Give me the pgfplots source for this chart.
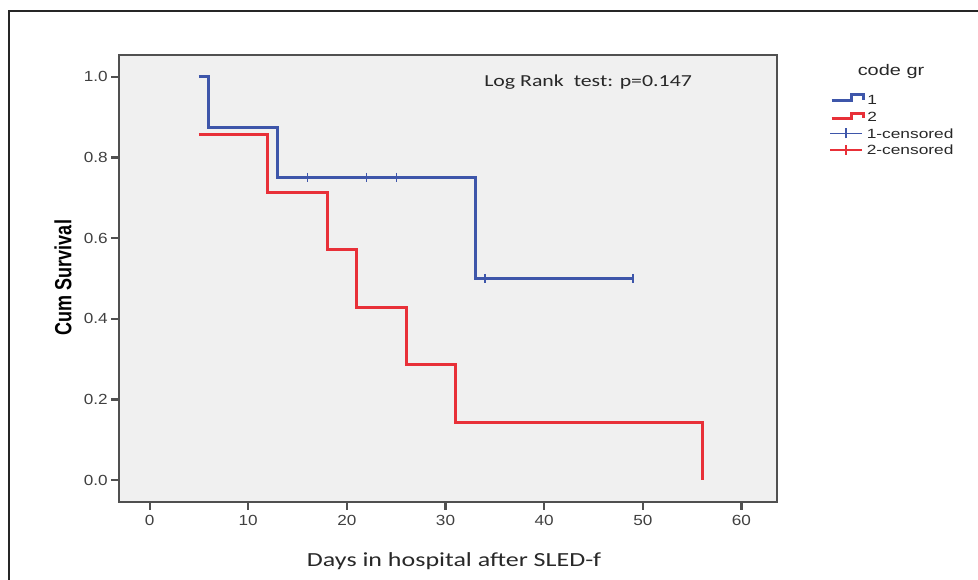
\documentclass[border=0pt]{standalone}
\usepackage{pgfplots}
\pgfplotsset{compat=1.18}
\usepackage{fontspec}
\setmainfont{Liberation Sans}
\newfontfamily\tickfont[FakeStretch=1.3]{Liberation Sans}
\newfontfamily\numfont[FakeStretch=1.17]{Liberation Sans}
\newfontfamily\calfont[FakeStretch=1.3]{Carlito}
\definecolor{kmblue}{RGB}{62,86,170}
\definecolor{kmred}{RGB}{232,48,56}
\definecolor{bgc}{RGB}{240,240,240}
\definecolor{framec}{RGB}{80,80,80}
\definecolor{txtc}{RGB}{40,40,40}
\begin{document}
\begin{tikzpicture}[x=0.75pt,y=0.75pt]
\path[use as bounding box] (0,0) rectangle (978,580);
\draw[black!85, line width=1.5pt] (9.3,0) -- (9.3,569) -- (978,569);
\begin{axis}[
  at={(89.25pt,58.5pt)}, anchor=south west,
  scale only axis, width=493.5pt, height=335.25pt,
  xmin=-3.1, xmax=63.6, ymin=-0.054, ymax=1.054,
  xtick={0,10,20,30,40,50,60},
  ytick={0,0.2,0.4,0.6,0.8,1.0},
  axis background/.style={fill=bgc},
  axis line style={draw=framec, line width=1.6pt},
  tick style={draw=framec, line width=1.6pt},
  major tick length=6pt, tick align=outside,
  xtick pos=bottom, ytick pos=left,
  /pgf/number format/assume math mode=true,
  ticklabel style={font=\numfont\fontsize{11}{13}\selectfont, text=black!75},
  yticklabel style={xshift=1pt, /pgf/number format/.cd, fixed, fixed zerofill, precision=1},
  xticklabel style={yshift=-0.5pt},
  clip=false,
]
\addplot[kmblue, line width=2.2pt, const plot, line join=miter] coordinates {(5,1) (6,0.875) (13,0.75) (33,0.5) (49,0.5)};
\addplot[kmred, line width=2.2pt, const plot, line join=miter] coordinates {(5,0.857) (12,0.714) (18,0.571) (21,0.429) (26,0.286) (31,0.143) (56,0)};
\addplot[kmblue, only marks, mark=|, mark size=3.5pt, mark options={line width=1pt}] coordinates {(16,0.75) (22,0.75) (25,0.75) (34,0.5) (49,0.5)};
\end{axis}
% titles
\node[anchor=west, inner sep=0pt, font=\calfont\fontsize{12.6}{15}\selectfont, text=txtc] at (484,498) {Log Rank\ \ test: p=0.147};
\node[font=\calfont\fontsize{15}{17}\selectfont, text=txtc, anchor=base] at (454,13.3) {Days in hospital after SLED-f};
\begin{scope}[shift={(63,302.5)}, xscale=1.3]
\node[rotate=90, transform shape, font=\bfseries\fontsize{13.5}{15}\selectfont] at (0,0) {Cum Survival};
\end{scope}
% legend
\node[font=\tickfont\fontsize{11.5}{13}\selectfont, text=txtc] at (891,508) {code gr};
\draw[kmblue, line width=2.2pt, line join=miter] (831.7,479.3) -- (851.7,479.3) -- (851.7,485.5) -- (863.3,485.5) -- (863.3,480);
\draw[kmred, line width=2.2pt, line join=miter] (831.7,461.7) -- (851.7,461.7) -- (851.7,466.7) -- (863.3,466.7) -- (863.3,462);
\draw[kmblue, line width=1pt] (830,446.7) -- (861.7,446.7) (846,441.7) -- (846,451.7);
\draw[kmred, line width=1pt] (830,430) -- (861.7,430) (846,425) -- (846,435);
\begin{scope}[font=\tickfont\fontsize{10}{12}\selectfont, text=txtc]
\node[anchor=west, inner sep=0pt] at (867,480) {1};
\node[anchor=west, inner sep=0pt] at (867,463.3) {2};
\node[anchor=west, inner sep=0pt] at (866.5,446.7) {1-censored};
\node[anchor=west, inner sep=0pt] at (866.5,430) {2-censored};
\end{scope}
\end{tikzpicture}
\end{document}
